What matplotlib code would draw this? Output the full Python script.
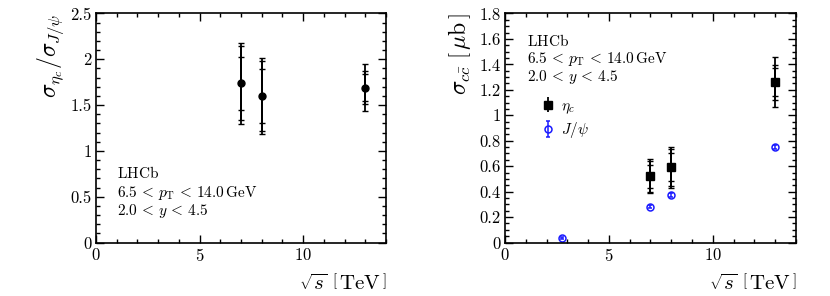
import matplotlib
matplotlib.use("Agg")
import matplotlib.pyplot as plt
from matplotlib.ticker import MultipleLocator, FormatStrFormatter
import numpy as np

plt.rcParams['font.family'] = 'serif'
plt.rcParams['font.serif'] = ['cmr10', 'DejaVu Serif']
plt.rcParams['mathtext.fontset'] = 'cm'
plt.rcParams['axes.formatter.use_mathtext'] = True
plt.rcParams['axes.unicode_minus'] = False

# ---- data ----
energy = [7, 8, 13]
ratio = [1.74, 1.60, 1.69]
ratio_stat = [0.29, 0.29, 0.15]
ratio_syst = [0.28, 0.25, 0.10]
ratio_bf = [0.18, 0.17, 0.18]

etac_xs = [0.52, 0.59, 1.26]
etac_stat = [0.09, 0.11, 0.11]
etac_syst = [0.08, 0.09, 0.08]
etac_bf = [0.06, 0.08, 0.14]

jpsi_energy = [2.76, 7, 8, 13]
jpsi_xs = [0.035, 0.28, 0.37, 0.753]
jpsi_err = [0.006, 0.012, 0.016, 0.016]

xticks = [0, 5, 10]

fig = plt.figure(figsize=(8.3, 2.96), dpi=100)
axL = fig.add_axes([0.1157, 0.1807, 0.3494, 0.7737])
axR = fig.add_axes([0.6084, 0.1807, 0.3506, 0.7737])

def style(ax, ymaj, ymin):
    ax.set_xlim(0, 14)
    ax.xaxis.set_major_locator(MultipleLocator(5))
    ax.xaxis.set_minor_locator(MultipleLocator(1))
    ax.yaxis.set_major_locator(MultipleLocator(ymaj))
    ax.yaxis.set_minor_locator(MultipleLocator(ymin))
    ax.yaxis.set_major_formatter(FormatStrFormatter('%g'))
    ax.tick_params(which='both', direction='in', top=True, right=True,
                   labelsize=12, width=1.0, pad=3)
    ax.tick_params(which='major', length=6)
    ax.tick_params(which='minor', length=3)
    for s in ax.spines.values():
        s.set_linewidth(1.2)
    ax.set_xticks(xticks)
    ax.set_xlabel(r'$\sqrt{s}\ \left[\,\mathrm{TeV}\,\right]$', fontsize=15, loc='right')
    ax.xaxis.set_label_coords(1.0, -0.135)

def total(*errs):
    return np.sqrt(np.sum(np.square(errs), axis=0))

line2 = r'$6.5\,<\,p_{\mathrm{T}}\,<\,14.0\,\mathrm{GeV}$'
line3 = r'$2.0\,<\,y\,<\,4.5$'

# ---- left panel ----
style(axL, 0.5, 0.1)
axL.set_ylim(0, 2.5)
e1 = np.array(ratio_stat)
e2 = total(ratio_stat, ratio_syst)
e3 = total(ratio_stat, ratio_syst, ratio_bf)
for e in (e3, e2, e1):
    axL.errorbar(energy, ratio, yerr=e, fmt='none', ecolor='black',
                 elinewidth=1.3, capsize=2, capthick=1)
axL.plot(energy, ratio, 'o', color='black', markersize=5)
axL.set_ylabel(r'$\sigma_{\eta_c}/\sigma_{J/\psi}$', fontsize=17, loc='top')
axL.yaxis.set_label_coords(-0.105, 1.0)
axL.text(0.071, 0.303, r'$\mathrm{LHCb}$', transform=axL.transAxes, fontsize=11, va='center')
axL.text(0.071, 0.216, line2, transform=axL.transAxes, fontsize=11, va='center')
axL.text(0.071, 0.138, line3, transform=axL.transAxes, fontsize=11, va='center')

# ---- right panel ----
style(axR, 0.2, 0.05)
axR.set_ylim(0, 1.8)
e1 = np.array(etac_stat)
e2 = total(etac_stat, etac_syst)
e3 = total(etac_stat, etac_syst, etac_bf)
for e in (e3, e2, e1):
    axR.errorbar(energy, etac_xs, yerr=e, fmt='none', ecolor='black',
                 elinewidth=1.3, capsize=2, capthick=1)
hE = axR.errorbar(energy, etac_xs, yerr=e1, fmt='s', color='black', markersize=5.5,
                  elinewidth=1.3, capsize=0)
hJ = axR.errorbar(jpsi_energy, jpsi_xs, yerr=jpsi_err, fmt='o', color='#1a1aff',
                  markerfacecolor='none', markeredgewidth=1.1, markersize=5,
                  elinewidth=1.1, capsize=1.5)
axR.set_ylabel(r'$\sigma_{c\bar{c}}\ \left[\,\mathrm{\mu b}\,\right]$', fontsize=17, loc='top')
axR.yaxis.set_label_coords(-0.11, 1.0)
axR.text(0.075, 0.881, r'$\mathrm{LHCb}$', transform=axR.transAxes, fontsize=11, va='center')
axR.text(0.075, 0.801, line2, transform=axR.transAxes, fontsize=11, va='center')
axR.text(0.075, 0.723, line3, transform=axR.transAxes, fontsize=11, va='center')
leg = axR.legend([hE, hJ], [r'$\eta_c$', r'$J/\psi$'], loc='upper left',
                 bbox_to_anchor=(0.12, 0.625), frameon=False, fontsize=11,
                 handlelength=1.0, handletextpad=0.4, labelspacing=0.3,
                 borderpad=0, borderaxespad=0)

fig.savefig('out.png', dpi=100)
